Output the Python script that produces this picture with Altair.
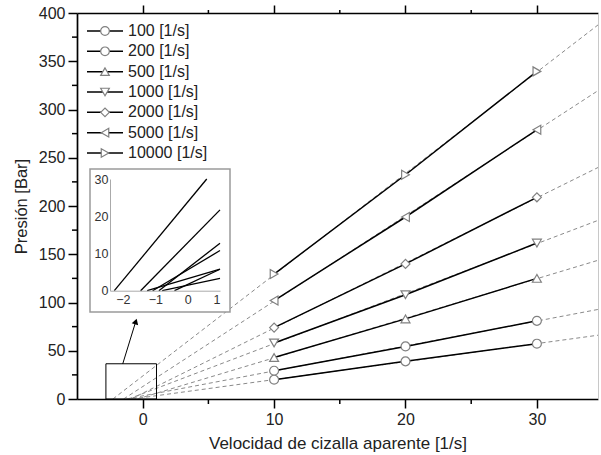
import altair as alt
import pandas as pd

# ---- data ----
shear_x = [10, 20, 30]
series_labels = ["100 [1/s]", "200 [1/s]", "500 [1/s]", "1000 [1/s]",
                 "2000 [1/s]", "5000 [1/s]", "10000 [1/s]"]
p100 = [20.0, 39.0, 57.3]
p200 = [29.3, 54.5, 81.0]
p500 = [43.0, 83.0, 125.0]
p1000 = [58.0, 108.0, 161.6]
p2000 = [74.0, 140.0, 209.0]
p5000 = [102.0, 188.6, 279.0]
p10000 = [129.5, 232.4, 339.5]
shapes = ["circle", "circle", "triangle-up", "triangle-down", "diamond",
          "triangle-left", "triangle-right"]

x_ticks = [0, 10, 20, 30]
x_minor = [5, 15, 25]
y_ticks = [0, 50, 100, 150, 200, 250, 300, 350, 400]
y_minor = [25, 75, 125, 175, 225, 275, 325, 375]
inset_x_ticks = [-2, -1, 0, 1]
inset_y_ticks = [0, 10, 20, 30]
zoom_box = {"x0": [-2.8], "x1": [1.05], "y0": [0], "y1": [36.5]}

rows = []
for lab, vals in zip(series_labels, [p100, p200, p500, p1000, p2000, p5000, p10000]):
    for xv, yv in zip(shear_x, vals):
        rows.append({"series": lab, "x": xv, "y": yv})
df = pd.DataFrame(rows)
leg_df = pd.DataFrame({"series": series_labels})
one = pd.DataFrame({"k": [0]})

FONT = "Liberation Sans"
W, H = 521, 386

xs = alt.Scale(domain=[-5, 34.65], nice=False, zero=False)
ys = alt.Scale(domain=[0, 400], nice=False)
shape_scale = alt.Scale(domain=series_labels, range=shapes)

x_axis = alt.Axis(values=x_ticks, tickSize=9, tickWidth=1.5, tickColor="black",
                  domainColor="black", domainWidth=1.7, labelFontSize=16,
                  labelColor="#222", labelFont=FONT, labelPadding=3,
                  title="Velocidad de cizalla aparente [1/s]", titleFont=FONT,
                  titleFontSize=17, titleFontWeight="normal", titleColor="#222",
                  titlePadding=8, grid=False)
y_axis = alt.Axis(values=y_ticks, tickSize=9, tickWidth=1.5, tickColor="black",
                  domainColor="black", domainWidth=1.7, labelFontSize=16,
                  labelColor="#222", labelFont=FONT, labelPadding=3,
                  title="Presión [Bar]", titleFont=FONT, titleFontSize=16.5,
                  titleFontWeight="normal", titleColor="#222", titlePadding=9,
                  grid=False)

reg = (alt.Chart(df)
       .transform_regression("x", "y", groupby=["series"], params=True)
       .transform_calculate(a="datum.coef[0]", b="datum.coef[1]"))

dashed = (reg.transform_calculate(x0="-datum.a/datum.b", y0="0", x1="35",
                                  y1="datum.a + datum.b*35")
          .mark_rule(color="#8a8a8a", strokeDash=[4, 3], strokeWidth=1, clip=True)
          .encode(x=alt.X("x0:Q", scale=xs, axis=x_axis),
                  y=alt.Y("y0:Q", scale=ys, axis=y_axis),
                  x2="x1:Q", y2="y1:Q"))

small_box = (alt.Chart(pd.DataFrame(zoom_box))
             .mark_rect(fillOpacity=0, stroke="black", strokeWidth=1)
             .encode(x=alt.X("x0:Q", scale=xs, axis=None),
                     y=alt.Y("y0:Q", scale=ys, axis=None),
                     x2="x1:Q", y2="y1:Q"))

solid = (alt.Chart(df).mark_line(color="black", strokeWidth=1.5)
         .encode(x=alt.X("x:Q", scale=xs, axis=None),
                 y=alt.Y("y:Q", scale=ys, axis=None),
                 detail="series:N"))

points = (alt.Chart(df)
          .mark_point(fill="white", fillOpacity=1, stroke="#808080",
                      strokeWidth=1.2, size=80, opacity=1)
          .encode(x=alt.X("x:Q", scale=xs, axis=None),
                  y=alt.Y("y:Q", scale=ys, axis=None),
                  shape=alt.Shape("series:N", scale=shape_scale, legend=None)))

minor_bottom = (alt.Chart(pd.DataFrame({"v": x_minor}))
                .mark_rule(color="black", strokeWidth=1.5, clip=False)
                .encode(x=alt.X("v:Q", scale=xs, axis=None),
                        y=alt.value(H), y2=alt.value(H + 5)))
minor_top = (alt.Chart(pd.DataFrame({"v": x_minor}))
             .mark_rule(color="black", strokeWidth=1.5, clip=False)
             .encode(x=alt.X("v:Q", scale=xs, axis=None),
                     y=alt.value(0), y2=alt.value(-3)))
minor_left = (alt.Chart(pd.DataFrame({"v": y_minor}))
              .mark_rule(color="black", strokeWidth=1.5, clip=False)
              .encode(y=alt.Y("v:Q", scale=ys, axis=None),
                      x=alt.value(0), x2=alt.value(-5)))

frame = (alt.Chart(df).mark_point(opacity=0)
         .encode(x=alt.X("x:Q", scale=xs,
                         axis=alt.Axis(orient="top", values=x_ticks, labels=False,
                                       tickSize=8, tickWidth=1.5, tickColor="black",
                                       domainColor="black", domainWidth=1.7,
                                       title=None, grid=False)),
                 y=alt.Y("y:Q", scale=ys,
                         axis=alt.Axis(orient="right", labels=False, ticks=False,
                                       domainColor="#c8c8c8", domainWidth=1,
                                       title=None, grid=False))))

# ---- inset ----
ixs = alt.Scale(domain=[-2.4, 1], range=[33, 143], nice=False, zero=False)
iys = alt.Scale(domain=[0, 30], range=[277.7, 166], nice=False)

inset_box = (alt.Chart(one)
             .mark_rect(fill="white", stroke="#9a9a9a", strokeWidth=1.5)
             .encode(x=alt.value(13), x2=alt.value(153),
                     y=alt.value(156), y2=alt.value(299)))

inset_lines = (reg.transform_calculate(x0="max(-2.4, -datum.a/datum.b)",
                                       x1="min(1, (30-datum.a)/datum.b)")
               .transform_calculate(y0="datum.a + datum.b*datum.x0",
                                    y1="datum.a + datum.b*datum.x1")
               .mark_rule(color="black", strokeWidth=1.3)
               .encode(x=alt.X("x0:Q", scale=ixs,
                               axis=alt.Axis(orient="bottom", offset=-(H - 277.7),
                                             values=inset_x_ticks, ticks=False,
                                             domainColor="#aaaaaa", domainWidth=1,
                                             labelFontSize=12.5, labelFont=FONT,
                                             labelColor="#333", labelPadding=3,
                                             title=None, grid=False, zindex=1)),
                       y=alt.Y("y0:Q", scale=iys,
                               axis=alt.Axis(orient="left", offset=-33,
                                             values=inset_y_ticks, ticks=False,
                                             domainColor="#aaaaaa", domainWidth=1,
                                             labelFontSize=12.5, labelFont=FONT,
                                             labelColor="#333", labelPadding=2,
                                             title=None, grid=False, zindex=1)),
                       x2="x1:Q", y2="y1:Q"))

arrow_line = (alt.Chart(one)
              .mark_rule(color="black", strokeWidth=1)
              .encode(x=alt.value(45.7), y=alt.value(351),
                      x2=alt.value(58.6), y2=alt.value(309)))
arrow_head = (alt.Chart(one)
              .mark_point(shape="triangle-up", filled=True, color="black",
                          size=45, angle=17, opacity=1)
              .encode(x=alt.value(58.8), y=alt.value(308.5)))

# ---- legend ----
leg_y = alt.Scale(type="point", domain=series_labels, range=[18, 140], padding=0)
leg_rule = (alt.Chart(leg_df).mark_rule(color="black", strokeWidth=1.5)
            .encode(y=alt.Y("series:N", scale=leg_y, axis=None),
                    x=alt.value(10), x2=alt.value(46)))
leg_pt = (alt.Chart(leg_df)
          .mark_point(fill="white", fillOpacity=1, stroke="#808080",
                      strokeWidth=1.2, size=75, opacity=1)
          .encode(y=alt.Y("series:N", scale=leg_y, axis=None),
                  x=alt.value(28),
                  shape=alt.Shape("series:N", scale=shape_scale, legend=None)))
leg_txt = (alt.Chart(leg_df)
           .mark_text(align="left", baseline="middle", fontSize=16, font=FONT,
                      color="#222")
           .encode(y=alt.Y("series:N", scale=leg_y, axis=None),
                   x=alt.value(51), text="series:N"))

chart = (alt.layer(dashed, small_box, solid, points, minor_bottom, minor_top,
                   minor_left, frame, inset_box, inset_lines, arrow_line,
                   arrow_head, leg_rule, leg_pt, leg_txt)
         .resolve_scale(x="independent", y="independent")
         .properties(width=W, height=H,
                     autosize=alt.AutoSizeParams(type="none"),
                     padding={"left": 77, "top": 13, "right": 3, "bottom": 56},
                     background="white")
         .configure_view(strokeWidth=0))

chart.save("out.html", embed_options={"renderer": "svg", "actions": False})
